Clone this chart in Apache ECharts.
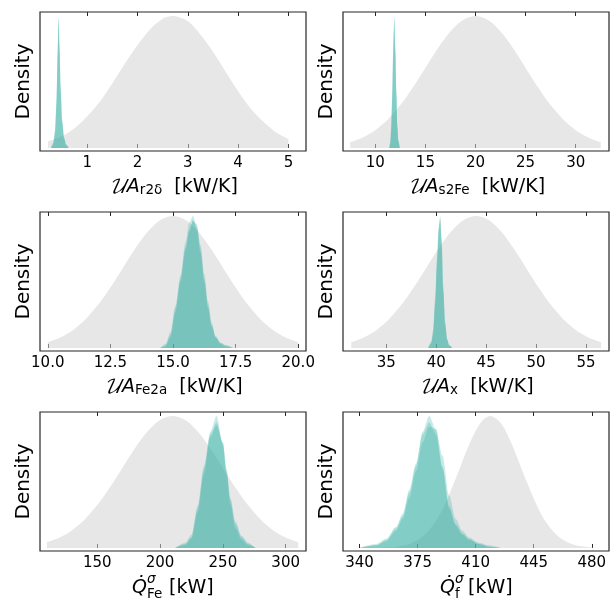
<!DOCTYPE html>
<html><head><meta charset="utf-8">
<script src="https://cdn.jsdelivr.net/npm/echarts@6/dist/echarts.min.js"></script>
<style>html,body{margin:0;padding:0;background:#fff}#c{width:616px;height:608px}</style>
</head><body><div id="c"></div><script>
// ---- tick labels ----
const ticks1 = [1, 2, 3, 4, 5];
const ticks2 = [10, 15, 20, 25, 30];
const ticks3 = [10, 12.5, 15, 17.5, 20];
const ticks4 = [35, 40, 45, 50, 55];
const ticks5 = [150, 200, 250, 300];
const ticks6 = [340, 375, 410, 445, 480];

// ---- prior densities (grey), normalised to peak 1 ----
const prior1X = [0.22,0.5,0.75,1.0,1.25,1.5,1.75,2.0,2.25,2.5,2.7,3.0,3.25,3.5,3.75,4.0,4.25,4.5,4.75,5.0];
const prior1Y = [0.05,0.09,0.15,0.24,0.35,0.49,0.64,0.78,0.9,0.98,1.0,0.96,0.86,0.73,0.58,0.43,0.3,0.2,0.12,0.07];
const prior2X = [7.5,8.75,10,11.25,12.5,13.75,15,16.25,17.5,18.75,20,21.25,22.5,23.75,25,26.25,27.5,28.75,30,31.25,32.5];
const prior2Y = [0.044,0.08,0.135,0.216,0.325,0.458,0.607,0.755,0.882,0.969,1,0.969,0.882,0.755,0.607,0.458,0.325,0.216,0.135,0.08,0.044];
const prior3X = [10,10.5,11,11.5,12,12.5,13,13.5,14,14.5,15,15.5,16,16.5,17,17.5,18,18.5,19,19.5,20];
const prior3Y = [0.044,0.08,0.135,0.216,0.325,0.458,0.607,0.755,0.882,0.969,1,0.969,0.882,0.755,0.607,0.458,0.325,0.216,0.135,0.08,0.044];
const prior4X = [31.5,32.75,34,35.25,36.5,37.75,39,40.25,41.5,42.75,44,45.25,46.5,47.75,49,50.25,51.5,52.75,54,55.25,56.5];
const prior4Y = [0.044,0.08,0.135,0.216,0.325,0.458,0.607,0.755,0.882,0.969,1,0.969,0.882,0.755,0.607,0.458,0.325,0.216,0.135,0.08,0.044];
const prior5X = [110,120,130,140,150,160,170,180,190,200,210,220,230,240,250,260,270,280,290,300,310];
const prior5Y = [0.044,0.08,0.135,0.216,0.325,0.458,0.607,0.755,0.882,0.969,1,0.969,0.882,0.755,0.607,0.458,0.325,0.216,0.135,0.08,0.044];
const prior6X = [350,360,370,380,390,400,405,410,415,419,425,430,435,440,450,460,470,480,486];
const prior6Y = [0.001,0.006,0.03,0.108,0.292,0.59,0.751,0.889,0.977,1,0.949,0.838,0.688,0.525,0.245,0.086,0.022,0.004,0.001];

// ---- posterior densities (teal, several chains), normalised ----
const post1X = [0.28,0.32,0.36,0.39,0.41,0.43,0.45,0.47,0.50,0.54,0.58,0.63];
const post1A = [0,0.03,0.12,0.35,0.7,1.0,0.75,0.45,0.2,0.07,0.02,0];
const post1B = [0,0.04,0.14,0.38,0.72,0.97,0.72,0.42,0.19,0.08,0.03,0];
const post1C = [0,0.02,0.1,0.32,0.66,0.99,0.78,0.48,0.22,0.07,0.02,0];

const post2X = [11.4,11.5,11.6,11.7,11.8,11.9,12.0,12.1,12.2,12.3,12.45];
const post2A = [0,0.04,0.15,0.4,0.75,1.0,0.75,0.42,0.15,0.05,0];
const post2B = [0,0.05,0.17,0.43,0.78,0.97,0.72,0.4,0.16,0.06,0];
const post2C = [0,0.03,0.13,0.37,0.72,0.99,0.78,0.45,0.17,0.05,0];

const post3X = [14.5,14.7,14.9,15.1,15.3,15.5,15.65,15.8,15.95,16.1,16.25,16.4,16.55,16.7,16.9,17.1,17.4];
const post3A = [0,0.02,0.1,0.3,0.52,0.76,0.9,0.97,0.92,0.75,0.52,0.32,0.17,0.08,0.03,0.01,0];
const post3B = [0,0.03,0.12,0.32,0.55,0.8,0.95,1.0,0.9,0.72,0.5,0.3,0.16,0.08,0.04,0.02,0];
const post3C = [0,0.01,0.08,0.27,0.5,0.74,0.88,0.96,0.94,0.78,0.56,0.35,0.19,0.09,0.04,0.02,0];

const post4X = [39.2,39.5,39.7,39.9,40.1,40.25,40.4,40.55,40.7,40.9,41.1,41.3,41.6];
const post4A = [0,0.04,0.12,0.35,0.68,0.9,1.0,0.8,0.45,0.18,0.06,0.02,0];
const post4B = [0,0.05,0.14,0.38,0.7,0.92,0.97,0.76,0.42,0.17,0.07,0.02,0];
const post4C = [0,0.03,0.1,0.32,0.64,0.88,0.99,0.83,0.48,0.2,0.06,0.02,0];

const post5X = [212,220,225,230,235,240,245,250,253,256,260,265,270,276];
const post5A = [0,0.03,0.08,0.3,0.6,0.88,1.0,0.78,0.55,0.33,0.15,0.06,0.02,0];
const post5B = [0,0.04,0.1,0.32,0.62,0.86,0.95,0.8,0.58,0.36,0.18,0.08,0.03,0];
const post5C = [0,0.02,0.07,0.27,0.56,0.84,0.93,0.8,0.6,0.38,0.2,0.09,0.04,0];

const post6X = [340,350,356,362,366,370,374,378,382,386,390,394,398,402,406,412,418,425];
const post6A = [0,0.02,0.06,0.15,0.24,0.42,0.62,0.88,1.0,0.9,0.62,0.32,0.18,0.11,0.07,0.03,0.01,0];
const post6B = [0,0.02,0.05,0.13,0.22,0.38,0.58,0.8,0.92,0.9,0.7,0.4,0.22,0.13,0.08,0.04,0.02,0];
const post6C = [0,0.03,0.07,0.16,0.26,0.44,0.64,0.86,0.95,0.86,0.6,0.3,0.17,0.1,0.06,0.03,0.01,0];

// ---- axis titles ----
const subs = ['r2δ', 's2Fe', 'Fe2a', 'x'];
const qSubs = ['Fe', 'f'];

// ---- layout ----
const FONT = "'DejaVu Sans', sans-serif";
const gridLeft = [40, 343, 40, 343, 40, 343];
const gridTop = [12, 12, 212, 212, 412, 412];
const gridW = 266, gridH = 139;
const xMin = [0.06, 6.78, 9.69, 30.67, 104.4, 330];
const xMax = [5.35, 33.32, 20.31, 57.3, 316.2, 490.4];
const yMin = -0.0227, yMax = 1.0303;
const GREY = 'rgba(211,211,211,0.55)';
const TEAL = 'rgba(40,170,160,0.25)';

const priors = [[prior1X,prior1Y],[prior2X,prior2Y],[prior3X,prior3Y],[prior4X,prior4Y],[prior5X,prior5Y],[prior6X,prior6Y]];
const posts = [
  [post1X,[post1A,post1B,post1C]],[post2X,[post2A,post2B,post2C]],[post3X,[post3A,post3B,post3C]],
  [post4X,[post4A,post4B,post4C]],[post5X,[post5A,post5B,post5C]],[post6X,[post6A,post6B,post6C]]
];
const tickSets = [ticks1,ticks2,ticks3,ticks4,ticks5,ticks6];
const zip = (xs, ys) => xs.map((x, i) => [x, ys[i]]);

const grid = [], xAxis = [], yAxis = [], series = [], graphic = [];
const tickColor = '#262626';
const richName = {
  c: {fontSize: 19, fontFamily: "'DejaVu Math TeX Gyre','Noto Sans Math','DejaVu Serif',serif", fontStyle: 'italic', color: '#000', verticalAlign: 'bottom', lineHeight: 22},
  a: {fontSize: 19, fontFamily: FONT, fontStyle: 'italic', color: '#000', verticalAlign: 'bottom', lineHeight: 22},
  s: {fontSize: 13.5, fontFamily: FONT, color: '#000', verticalAlign: 'bottom', lineHeight: 20},
  r: {fontSize: 19, fontFamily: FONT, color: '#000', verticalAlign: 'bottom', lineHeight: 22}
};

for (let i = 0; i < 6; i++) {
  grid.push({left: gridLeft[i], top: gridTop[i], width: gridW, height: gridH, show: true,
    borderColor: '#262626', borderWidth: 1.2, backgroundColor: 'transparent'});
  const ticks = tickSets[i];
  const fmt = i === 2 ? (v => Number(v).toFixed(1)) : (v => String(v));
  const name = i < 4 ? '{c|𝒰}{a|A}{s|' + subs[i] + '}{r|  [kW/K]}' : '';
  xAxis.push({gridIndex: i, type: 'value', min: xMin[i], max: xMax[i], position: 'bottom',
    axisLine: {show: false}, splitLine: {show: false},
    axisTick: {inside: true, length: 4, lineStyle: {color: tickColor, width: 1}, customValues: ticks},
    axisLabel: {customValues: ticks, fontSize: 15, color: '#000', fontFamily: FONT, margin: 5, formatter: fmt},
    name: name, nameLocation: 'middle', nameGap: 24, nameTextStyle: {rich: richName}
  });
  xAxis.push({gridIndex: i, type: 'value', min: xMin[i], max: xMax[i], position: 'top',
    axisLine: {show: false}, splitLine: {show: false},
    axisTick: {inside: true, length: 4, lineStyle: {color: tickColor, width: 1}, customValues: ticks},
    axisLabel: {show: false, customValues: ticks}
  });
  yAxis.push({gridIndex: i, type: 'value', min: yMin, max: yMax,
    axisLine: {show: false}, axisTick: {show: false}, axisLabel: {show: false}, splitLine: {show: false},
    name: 'Density', nameLocation: 'middle', nameRotate: 90, nameGap: 6,
    nameTextStyle: {fontSize: 20, color: '#000', fontFamily: FONT}
  });
  series.push({type: 'line', xAxisIndex: 2 * i, yAxisIndex: i, data: zip(priors[i][0], priors[i][1]),
    smooth: 0.3, showSymbol: false, silent: true, lineStyle: {width: 0}, areaStyle: {color: GREY, opacity: 1}});
  posts[i][1].forEach(ys => {
    series.push({type: 'line', xAxisIndex: 2 * i, yAxisIndex: i, data: zip(posts[i][0], ys),
      smooth: 0.3, smoothMonotone: 'x', showSymbol: false, silent: true, lineStyle: {width: 0},
      areaStyle: {color: TEAL, opacity: 1}});
  });
}

// Q-dot labels for bottom row (stacked super/subscript)
[0, 1].forEach(k => {
  const cx = gridLeft[4 + k] + gridW / 2;
  const y = 588;
  const sub = qSubs[k];
  const qx = k === 0 ? cx - 41 : cx - 36;
  const sx = qx + 15;
  const rx = k === 0 ? sx + 22 : sx + 13;
  graphic.push({type: 'text', x: qx, y: y, style: {text: 'Q\u0307', font: 'italic 19px DejaVu Sans', fill: '#000', textVerticalAlign: 'middle'}});
  graphic.push({type: 'text', x: sx, y: y - 9, style: {text: 'σ', font: 'italic 13.5px DejaVu Sans', fill: '#000', textVerticalAlign: 'middle'}});
  graphic.push({type: 'text', x: sx, y: y + 6, style: {text: sub, font: '13.5px DejaVu Sans', fill: '#000', textVerticalAlign: 'middle'}});
  graphic.push({type: 'text', x: rx, y: y, style: {text: '[kW]', font: '19px DejaVu Sans', fill: '#000', textVerticalAlign: 'middle'}});
});

const chart = echarts.init(document.getElementById('c'), null, {renderer: 'canvas'});
chart.setOption({animation: false, backgroundColor: '#fff', grid, xAxis, yAxis, series, graphic});
</script></body></html>
